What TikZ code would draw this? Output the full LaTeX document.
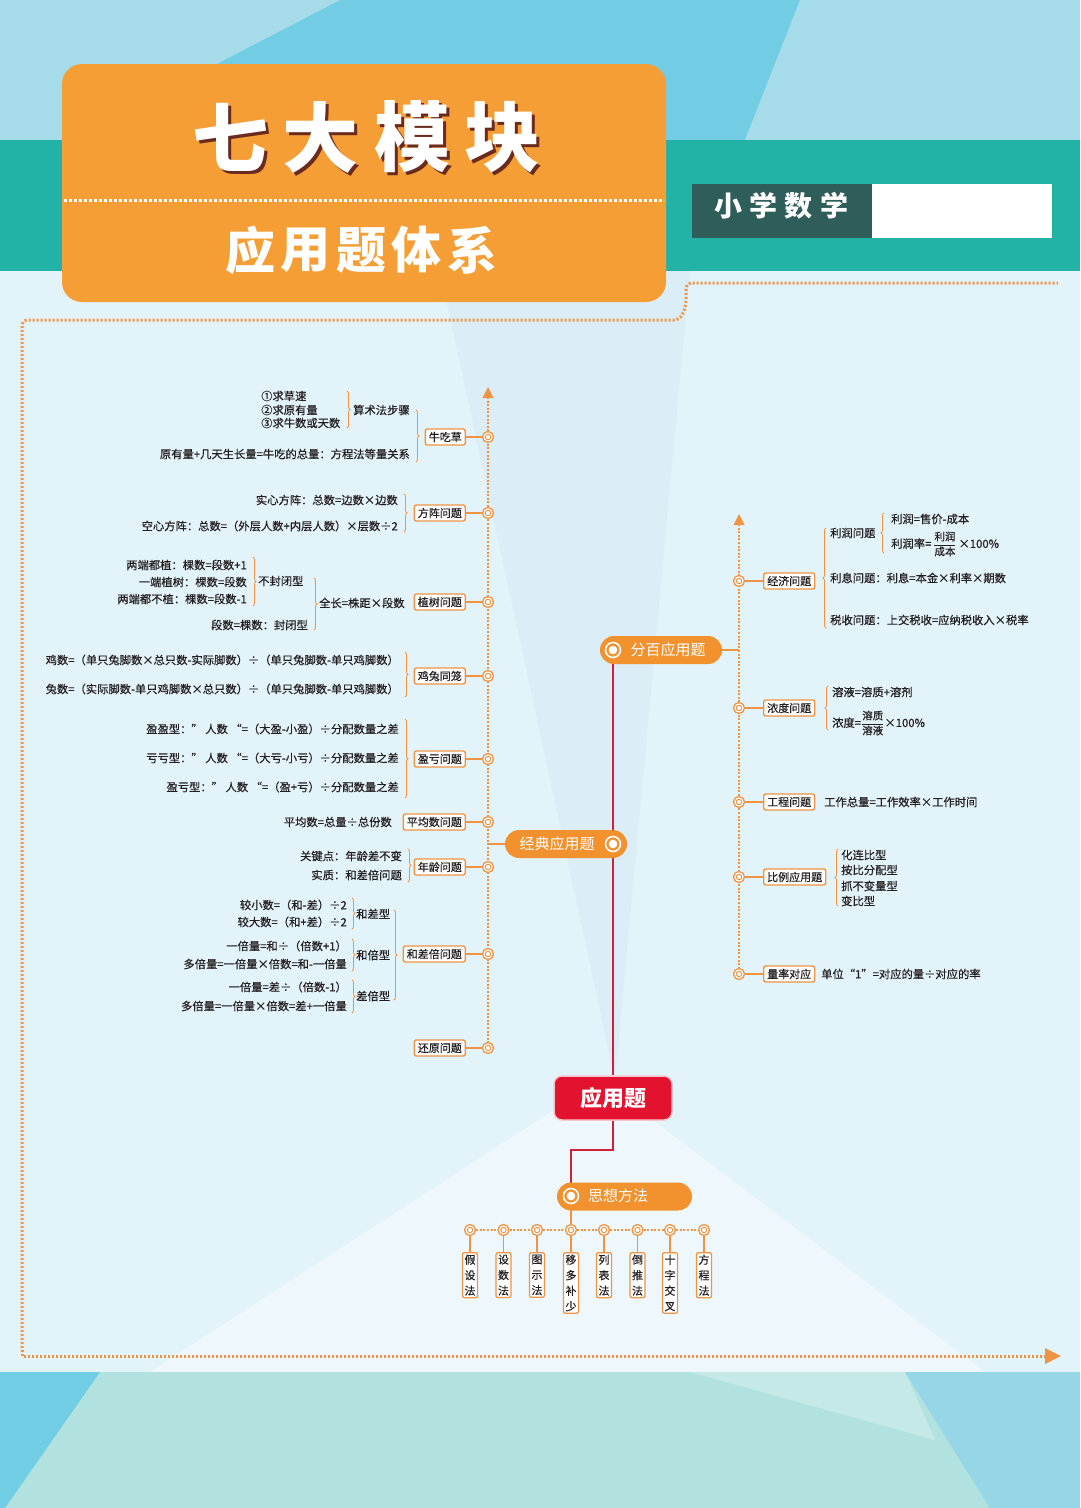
\documentclass[tikz,border=0pt]{standalone}
\usepackage{fontspec}
\setmainfont{Noto Sans CJK SC}
\newfontfamily\bodyf[FakeBold=0.45]{Noto Sans CJK SC}
\usetikzlibrary{decorations.pathreplacing}
\definecolor{orng}{HTML}{EE9444}
\definecolor{orngf}{HTML}{F1922E}
\definecolor{titleor}{HTML}{F59E35}
\definecolor{tealb}{HTML}{22B3A6}
\definecolor{topblue}{HTML}{72CCE4}
\definecolor{toplight}{HTML}{A6DCEA}
\definecolor{mainbg}{HTML}{E3F3FA}
\definecolor{botbg}{HTML}{B1E2E0}
\definecolor{botl}{HTML}{70CDE3}
\definecolor{botr}{HTML}{96D6E6}
\definecolor{redn}{HTML}{E3122F}
\definecolor{redl}{HTML}{D41F3C}
\definecolor{txt}{HTML}{231F20}
\definecolor{darkbox}{HTML}{2F5E5A}
\definecolor{shadowc}{HTML}{6A2B1E}
\newcommand{\fs}[2]{\fontsize{#1}{#2}\selectfont}
\newcommand{\myfrac}[2]{$\displaystyle{\hbox{\bodyf\fs{10.5}{11}#1}\over\hbox{\bodyf\fs{10.5}{11}#2}}$}
\begin{document}
\begin{tikzpicture}[x=1pt,y=-1pt,
  every node/.style={text=txt},
  border/.style={draw=orng, line width=3pt, dash pattern=on 2pt off 2pt},
  spine/.style={draw=orng, line width=2.6pt, dash pattern=on 2pt off 1.6pt},
  conn/.style={draw=orng, line width=1.5pt},
  leaf/.style={draw=orng, line width=1.4pt, fill=white, rounded corners=2pt, inner xsep=3.5pt, inner ysep=1.5pt, minimum height=16pt, font=\bodyf\fs{11}{13}},
  ring/.style={circle, draw=orng, fill=white, line width=1.3pt, minimum size=11pt, inner sep=0pt, path picture={\draw[orng, line width=1pt] (path picture bounding box.center) circle (2.7pt);}},
  brc/.style={decorate, decoration={brace, amplitude=3pt}, draw=orng, line width=0.8pt},
  lt/.style={anchor=east, inner sep=0pt, font=\bodyf\fs{11.3}{13}},
  rt/.style={anchor=west, inner sep=0pt, font=\bodyf\fs{11.3}{13}},
  pill/.style={fill=orngf, rounded corners=14pt, minimum height=28pt, inner sep=0pt},
  ptxt/.style={text=white, font=\fs{15}{18}, inner sep=0pt},
  icon/.style={circle, draw=white, line width=1.6pt, minimum size=15pt, inner sep=0pt, path picture={\fill[white] (path picture bounding box.center) circle (4.3pt);}},
  mbox/.style={draw=orng, line width=1.3pt, fill=white, rounded corners=2pt, inner xsep=2pt, inner ysep=2pt, align=center, font=\bodyf\fs{11}{15.5}, text width=11pt},
  redline/.style={draw=redl, line width=2.2pt}
]
\useasboundingbox (0,0) rectangle (1080,1508);
% ---------- background ----------
\fill[topblue] (0,0) rectangle (1080,140);
\fill[toplight] (0,0) -- (340,0) -- (70,140) -- (0,140) -- cycle;
\fill[toplight] (800,0) -- (1080,0) -- (1080,140) -- (745,140) -- cycle;
\fill[tealb] (0,140) rectangle (1080,271);
\fill[mainbg] (0,271) rectangle (1080,1372);
\fill[cyan!40!blue, opacity=0.04] (440,271) -- (690,271) -- (615,1080) -- cycle;
\fill[white, opacity=0.4] (600,1080) -- (150,1372) -- (985,1372) -- cycle;
\fill[botbg] (0,1372) rectangle (1080,1508);
\fill[botl] (0,1372) -- (100,1372) -- (5,1508) -- (0,1508) -- cycle;
\fill[botr] (905,1372) -- (1080,1372) -- (1080,1508) -- (990,1508) -- cycle;
\fill[white, opacity=0.25] (690,1372) -- (905,1372) -- (935,1440) -- cycle;
% ---------- title ----------
\node[fill=titleor, rounded corners=20pt, minimum width=604pt, minimum height=238pt, inner sep=0pt] (tbox) at (364,183) {};
\draw[white, line width=3pt, dash pattern=on 3pt off 2pt] (64,200) -- (664,200);
\foreach \c/\x [count=\i] in {七/230,大/320,模/412,块/502}{
  \node[font=\fs{76}{80}\bfseries, text=shadowc, inner sep=0pt] (ts\i) at (\x+3,140) {\c};
  \node[font=\fs{76}{80}\bfseries, text=white, inner sep=0pt] (t\i) at (\x,137) {\c};
}
\foreach \c/\x [count=\i] in {应/250,用/305.5,题/361,体/416.5,系/472}{
  \node[font=\fs{50}{54}\bfseries, text=white, inner sep=0pt] (u\i) at (\x,250) {\c};
}
\node[fill=darkbox, minimum width=180pt, minimum height=54pt, inner sep=0pt] (xbox) at (782,211) {};
\node[fill=white, minimum width=180pt, minimum height=54pt, inner sep=0pt] (wbox) at (962,211) {};
\foreach \c/\x [count=\i] in {小/728,学/763.3,数/798.7,学/834}{
  \node[font=\fs{28}{30}\bfseries, text=white, inner sep=0pt] (x\i) at (\x,206) {\c};
}
% ---------- border ----------
\draw[border, rounded corners=6pt] (22,1352) -- (22,320) -- (680,320) -- (686,306) -- (686,283) -- (1058,283);
\draw[border] (22,1350) -- (22,1356) -- (1046,1356);
\fill[orng] (1045,1348) -- (1061,1356) -- (1045,1364) -- cycle;
% ---------- left spine ----------
\draw[spine] (488,397) -- (488,1050);
\fill[orng] (482.5,398) -- (493.5,398) -- (488,387) -- cycle;
\foreach \y [count=\i] in {437,513,602,676,759,822,867,954,1048}
  \node[ring] (rl\i) at (488,\y) {};
\foreach \t/\y [count=\i] in {牛吃草/437,方阵问题/513,植树问题/602,鸡兔同笼/676,盈亏问题/759,平均数问题/822,年龄问题/867,和差倍问题/954,还原问题/1048}
  \node[leaf, anchor=east] (lf\i) at (466,\y) {\t};
\foreach \i in {1,...,9} \draw[conn] (lf\i.east) -- (rl\i);
% 牛吃草
\node[rt] (a1) at (261,396) {①求草速};
\node[rt] (a2) at (261,410) {②求原有量};
\node[rt] (a3) at (261,423) {③求牛数或天数};
\draw[brc] (347,391) -- (347,428);
\node[rt] (a4) at (353,410) {算术法步骤};
\node[lt] (a5) at (410,454) {原有量+几天生长量=牛吃的总量：方程法等量关系};
\draw[brc] (416,410) -- (416,462);
% 方阵
\node[lt] (b1) at (398,500) {实心方阵：总数=边数×边数};
\node[lt] (b2) at (398,526) {空心方阵：总数=（外层人数+内层人数）×层数÷2};
\draw[brc] (404,494) -- (404,532);
% 植树
\node[lt] (c1) at (247,565) {两端都植：棵数=段数+1};
\node[lt] (c2) at (247,582) {一端植树：棵数=段数};
\node[lt] (c3) at (247,599) {两端都不植：棵数=段数-1};
\draw[brc] (253,557) -- (253,606);
\node[rt] (c4) at (258,581) {不封闭型};
\node[lt] (c5) at (308,625) {段数=棵数：封闭型};
\draw[brc] (314,578) -- (314,630);
\node[rt] (c6) at (319,603) {全长=株距×段数};
% 鸡兔
\node[lt] (d1) at (399,660) {鸡数=（单只兔脚数×总只数-实际脚数）÷（单只兔脚数-单只鸡脚数）};
\node[lt] (d2) at (399,689) {兔数=（实际脚数-单只鸡脚数×总只数）÷（单只兔脚数-单只鸡脚数）};
\draw[brc] (405,652) -- (405,697);
% 盈亏
\node[lt] (e1) at (399,729) {盈盈型：” 人数 “=（大盈-小盈）÷分配数量之差};
\node[lt] (e2) at (399,758) {亏亏型：” 人数 “=（大亏-小亏）÷分配数量之差};
\node[lt] (e3) at (399,787) {盈亏型：” 人数 “=（盈+亏）÷分配数量之差};
\draw[brc] (405,719) -- (405,798);
% 平均数
\node[lt] (f1) at (392,822) {平均数=总量÷总份数};
% 年龄
\node[lt] (g1) at (402,856) {关键点：年龄差不变};
\node[lt] (g2) at (402,875) {实质：和差倍问题};
\draw[brc] (408,849) -- (408,882);
% 和差倍
\node[lt] (h1) at (347,905) {较小数=（和-差）÷2};
\node[lt] (h2) at (347,922) {较大数=（和+差）÷2};
\draw[brc] (352,898) -- (352,929);
\node[rt] (h3) at (356,914) {和差型};
\node[lt] (h4) at (347,946) {一倍量=和÷（倍数+1）};
\node[lt] (h5) at (347,964) {多倍量=一倍量×倍数=和-一倍量};
\draw[brc] (352,939) -- (352,971);
\node[rt] (h6) at (356,955) {和倍型};
\node[lt] (h7) at (347,987) {一倍量=差÷（倍数-1）};
\node[lt] (h8) at (347,1006) {多倍量=一倍量×倍数=差+一倍量};
\draw[brc] (352,980) -- (352,1013);
\node[rt] (h9) at (356,996) {差倍型};
\draw[brc] (394,910) -- (394,1000);
% ---------- right spine ----------
\draw[spine] (739,524) -- (739,976);
\fill[orng] (733.5,525) -- (744.5,525) -- (739,514) -- cycle;
\foreach \y [count=\i] in {581,708,802,877,974}
  \node[ring] (rr\i) at (739,\y) {};
\foreach \t/\y [count=\i] in {经济问题/581,浓度问题/708,工程问题/802,比例应用题/877,量率对应/974}
  \node[leaf, anchor=west] (rf\i) at (763,\y) {\t};
\foreach \i in {1,...,5} \draw[conn] (rr\i) -- (rf\i.west);
% 经济
\draw[brc] (826,628) -- (826,528);
\node[rt] (k1) at (830,533) {利润问题};
\draw[brc] (884,553) -- (884,513);
\node[rt] (k2) at (891,519) {利润=售价-成本};
\node[rt] (k3) at (891,544) {利润率=\,\myfrac{利润}{成本}\,×100\%};
\node[rt] (k4) at (830,578) {利息问题：利息=本金×利率×期数};
\node[rt] (k5) at (830,620) {税收问题：上交税收=应纳税收入×税率};
% 浓度
\draw[brc] (828,730) -- (828,686);
\node[rt] (n1) at (832,692) {溶液=溶质+溶剂};
\node[rt] (n2) at (832,723) {浓度=\myfrac{溶质}{溶液}×100\%};
% 工程
\node[rt] (p1) at (824,802) {工作总量=工作效率×工作时间};
% 比例
\draw[brc] (838,906) -- (838,849);
\node[rt] (s1) at (841,855) {化连比型};
\node[rt] (s2) at (841,870) {按比分配型};
\node[rt] (s3) at (841,886) {抓不变量型};
\node[rt] (s4) at (841,901) {变比型};
% 量率
\node[rt] (q1) at (821,974) {单位“1”=对应的量÷对应的率};
% ---------- methods ----------
\foreach \x [count=\i] in {470,503.5,537,571,604,637.5,670,704}
  \node[ring] (m\i) at (\x,1230) {};
\foreach \i [evaluate=\i as \j using int(\i+1)] in {1,...,7}
  \draw[spine, line width=2.2pt] (m\i) -- (m\j);
\foreach \x/\t [count=\i] in {470/{假\\设\\法},503.5/{设\\数\\法},537/{图\\示\\法},571/{移\\多\\补\\少},604/{列\\表\\法},637.5/{倒\\推\\法},670/{十\\字\\交\\叉},704/{方\\程\\法}}{
  \node[mbox, anchor=north] (mb\i) at (\x,1252) {\t};
  \draw[conn] (m\i) -- (mb\i.north);
}
% ---------- central ----------
\node[fill=redn, draw=white!75!redn, line width=1.5pt, rounded corners=8pt, minimum width=118pt, minimum height=44pt, text=white, font=\fs{22}{26}\bfseries] (yyt) at (613,1098) {应用题};
\coordinate (cfb) at (613,650);
\coordinate (csx) at (571,1196);
\draw[redline] (cfb) -- (yyt.north);
\draw[redline] (yyt.south) -- (613,1150) -- (571,1150) -- (csx);
\draw[conn] (csx) -- (m4);
% 分百
\coordinate (rsp) at (739,650);
\node[pill, minimum width=122pt] (pfb) at (661,650) {};
\draw[conn] (pfb.east) -- (rsp);
\node[ptxt] (tfb) at (668,650) {分百应用题};
\node[icon] (ifb) at (613,650) {};
% 经典
\coordinate (lsp) at (488,844);
\node[pill, minimum width=122pt] (pjd) at (566,844) {};
\draw[conn] (pjd.west) -- (lsp);
\node[ptxt] (tjd) at (557,844) {经典应用题};
\node[icon] (ijd) at (613,844) {};
% 思想方法
\node[pill, minimum width=135pt] (psx) at (624.5,1196.5) {};
\node[ptxt] (tsx) at (618,1196) {思想方法};
\node[icon] (isx) at (571,1196) {};
\end{tikzpicture}
\end{document}
